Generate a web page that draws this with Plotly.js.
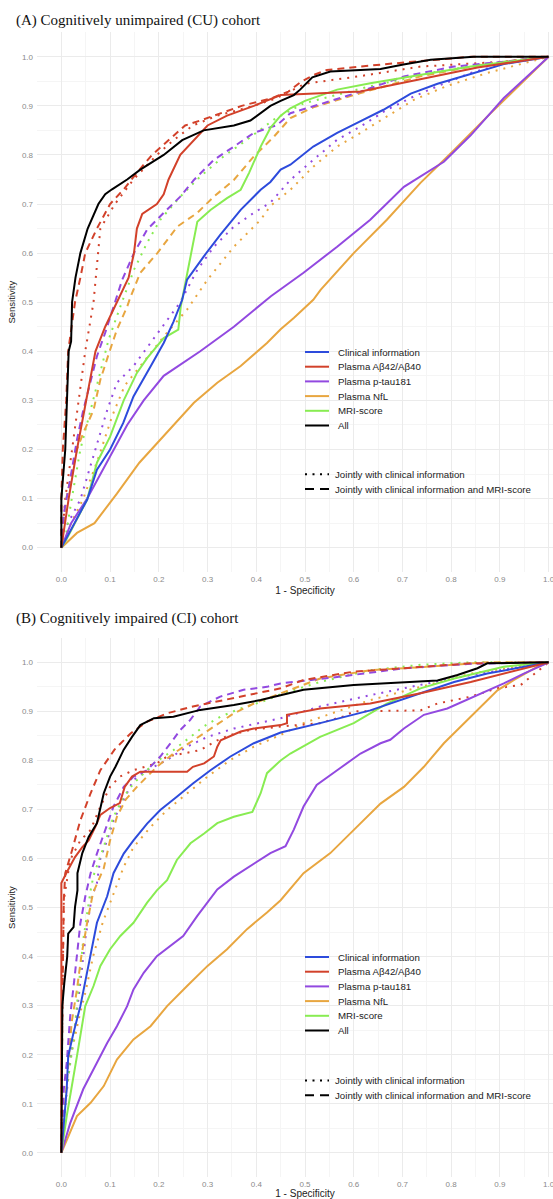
<!DOCTYPE html>
<html>
<head>
<meta charset="utf-8">
<script src="https://cdn.plot.ly/plotly-3.0.1.min.js"></script>
<style>
  html, body { margin: 0; padding: 0; overflow: hidden; background: #ffffff; }
  #chart { width: 573px; height: 1199px; }
</style>
</head>
<body>
<div id="chart"></div>
<script>
// ---------- Panel titles, legend labels ----------
const panelTitles = ['(A) Cognitively unimpaired (CU) cohort', '(B) Cognitively impaired (CI) cohort'];
const markerLabels = ['Clinical information', 'Plasma A\u03b242/A\u03b240', 'Plasma p-tau181', 'Plasma NfL', 'MRI-score', 'All'];
const lineTypeLabels = ['Jointly with clinical information', 'Jointly with clinical information and MRI-score'];
const xTitle = '1 - Specificity';
const yTitle = 'Sensitivity';

// ---------- (A) CU cohort: ROC curves (1 - specificity, sensitivity) ----------
const cuClinFpr = [0, 0.03, 0.053, 0.073, 0.1, 0.127, 0.148, 0.183, 0.21, 0.23, 0.248, 0.258, 0.292, 0.326, 0.368, 0.409, 0.429, 0.45, 0.47, 0.517, 0.566, 0.608, 0.661, 0.717, 0.772, 0.84, 0.908, 1];
const cuClinTpr = [0, 0.057, 0.098, 0.159, 0.2, 0.254, 0.308, 0.369, 0.417, 0.46, 0.505, 0.546, 0.593, 0.637, 0.688, 0.729, 0.745, 0.77, 0.78, 0.817, 0.845, 0.866, 0.892, 0.925, 0.945, 0.965, 0.985, 1];

const cuAbFpr = [0, 0.015, 0.032, 0.051, 0.07, 0.09, 0.114, 0.138, 0.149, 0.155, 0.166, 0.196, 0.21, 0.22, 0.244, 0.272, 0.3, 0.34, 0.395, 0.45, 0.614, 0.854, 1];
const cuAbTpr = [0, 0.1, 0.2, 0.3, 0.4, 0.45, 0.5, 0.55, 0.6, 0.65, 0.68, 0.7, 0.72, 0.75, 0.8, 0.83, 0.86, 0.88, 0.9, 0.922, 0.929, 0.978, 1];

const cuPtauFpr = [0, 0.02, 0.053, 0.08, 0.107, 0.135, 0.169, 0.21, 0.285, 0.354, 0.415, 0.43, 0.497, 0.566, 0.634, 0.703, 0.785, 0.84, 0.908, 1];
const cuPtauTpr = [0, 0.05, 0.1, 0.15, 0.2, 0.25, 0.3, 0.35, 0.4, 0.45, 0.5, 0.512, 0.56, 0.613, 0.668, 0.735, 0.786, 0.84, 0.916, 1];

const cuNflFpr = [0, 0.032, 0.068, 0.114, 0.16, 0.217, 0.272, 0.32, 0.368, 0.422, 0.45, 0.477, 0.517, 0.532, 0.6, 0.668, 0.737, 0.806, 0.874, 1];
const cuNflTpr = [0, 0.03, 0.05, 0.11, 0.173, 0.234, 0.295, 0.336, 0.37, 0.417, 0.445, 0.468, 0.505, 0.525, 0.6, 0.668, 0.743, 0.81, 0.878, 1];

const cuMriFpr = [0, 0.01, 0.053, 0.073, 0.1, 0.128, 0.155, 0.176, 0.21, 0.24, 0.245, 0.258, 0.268, 0.279, 0.306, 0.34, 0.368, 0.385, 0.409, 0.429, 0.45, 0.47, 0.5, 0.566, 0.634, 0.737, 0.84, 1];
const cuMriTpr = [0, 0.016, 0.098, 0.173, 0.226, 0.3, 0.356, 0.386, 0.427, 0.444, 0.491, 0.56, 0.613, 0.664, 0.688, 0.712, 0.729, 0.763, 0.817, 0.855, 0.88, 0.895, 0.91, 0.933, 0.946, 0.963, 0.98, 1];

const cuAllFpr = [0, 0, 0.008, 0.011, 0.015, 0.02, 0.022, 0.029, 0.039, 0.054, 0.076, 0.09, 0.104, 0.135, 0.162, 0.21, 0.248, 0.292, 0.354, 0.388, 0.429, 0.45, 0.477, 0.49, 0.515, 0.552, 0.655, 0.702, 0.758, 0.846, 1];
const cuAllTpr = [0, 0.1, 0.2, 0.3, 0.4, 0.42, 0.5, 0.55, 0.6, 0.65, 0.7, 0.72, 0.73, 0.75, 0.77, 0.8, 0.83, 0.85, 0.86, 0.87, 0.9, 0.91, 0.922, 0.933, 0.958, 0.97, 0.975, 0.984, 0.994, 1, 1];

// jointly with clinical information
const cuAbClinFpr = [0, 0.008, 0.022, 0.036, 0.049, 0.066, 0.075, 0.08, 0.11, 0.148, 0.196, 0.23, 0.27, 0.32, 0.395, 0.44, 0.5, 0.61, 0.737, 0.908, 1];
const cuAbClinTpr = [0, 0.1, 0.2, 0.3, 0.4, 0.5, 0.6, 0.65, 0.7, 0.75, 0.8, 0.83, 0.86, 0.88, 0.9, 0.915, 0.945, 0.96, 0.98, 0.99, 1];

const cuPtauClinFpr = [0, 0.003, 0.039, 0.066, 0.094, 0.114, 0.148, 0.183, 0.217, 0.244, 0.279, 0.313, 0.354, 0.395, 0.429, 0.47, 0.517, 0.566, 0.614, 0.668, 0.723, 0.772, 0.84, 0.908, 1];
const cuPtauClinTpr = [0, 0.03, 0.098, 0.186, 0.28, 0.336, 0.37, 0.417, 0.464, 0.5, 0.566, 0.613, 0.654, 0.682, 0.703, 0.749, 0.79, 0.831, 0.858, 0.892, 0.919, 0.94, 0.967, 0.986, 1];

const cuNflClinFpr = [0, 0.02, 0.045, 0.075, 0.105, 0.13, 0.17, 0.21, 0.258, 0.3, 0.354, 0.409, 0.429, 0.47, 0.517, 0.566, 0.614, 0.668, 0.723, 0.79, 0.874, 1];
const cuNflClinTpr = [0, 0.05, 0.1, 0.18, 0.27, 0.33, 0.38, 0.43, 0.485, 0.546, 0.613, 0.668, 0.696, 0.729, 0.776, 0.817, 0.845, 0.878, 0.912, 0.94, 0.967, 1];

const cuMriClinFpr = [0, 0.01, 0.021, 0.039, 0.06, 0.08, 0.097, 0.121, 0.149, 0.176, 0.203, 0.244, 0.285, 0.333, 0.381, 0.436, 0.497, 0.634, 0.772, 0.908, 1];
const cuMriClinTpr = [0, 0.03, 0.098, 0.2, 0.28, 0.356, 0.424, 0.491, 0.566, 0.621, 0.668, 0.715, 0.756, 0.797, 0.831, 0.872, 0.905, 0.94, 0.97, 0.99, 1];

// jointly with clinical information and MRI-score
const cuAbClinMriFpr = [0, 0, 0.003, 0.01, 0.014, 0.028, 0.039, 0.049, 0.073, 0.1, 0.128, 0.152, 0.186, 0.22, 0.254, 0.285, 0.37, 0.43, 0.466, 0.492, 0.518, 0.545, 0.655, 0.84, 1];
const cuAbClinMriTpr = [0, 0.1, 0.2, 0.3, 0.4, 0.5, 0.55, 0.6, 0.65, 0.7, 0.73, 0.76, 0.8, 0.83, 0.86, 0.87, 0.9, 0.915, 0.929, 0.949, 0.963, 0.973, 0.984, 1, 1];

const cuPtauClinMriFpr = [0, 0.005, 0.018, 0.032, 0.045, 0.06, 0.073, 0.09, 0.107, 0.125, 0.149, 0.176, 0.21, 0.244, 0.272, 0.313, 0.354, 0.395, 0.443, 0.47, 0.517, 0.614, 0.703, 0.806, 0.908, 1];
const cuPtauClinMriTpr = [0, 0.07, 0.138, 0.22, 0.28, 0.336, 0.39, 0.438, 0.491, 0.546, 0.6, 0.648, 0.682, 0.715, 0.749, 0.79, 0.817, 0.845, 0.861, 0.885, 0.899, 0.929, 0.96, 0.98, 0.99, 1];

const cuNflClinMriFpr = [0, 0.01, 0.032, 0.045, 0.066, 0.08, 0.1, 0.114, 0.135, 0.142, 0.162, 0.197, 0.238, 0.279, 0.313, 0.354, 0.395, 0.436, 0.47, 0.517, 0.614, 0.737, 0.874, 1];
const cuNflClinMriTpr = [0, 0.1, 0.2, 0.234, 0.28, 0.342, 0.403, 0.444, 0.491, 0.511, 0.56, 0.6, 0.654, 0.682, 0.715, 0.749, 0.797, 0.837, 0.875, 0.897, 0.926, 0.96, 0.986, 1];

// ---------- (B) CI cohort ----------
const ciClinFpr = [0, 0.005, 0.011, 0.014, 0.025, 0.039, 0.049, 0.06, 0.073, 0.094, 0.107, 0.128, 0.148, 0.176, 0.203, 0.237, 0.27, 0.306, 0.347, 0.395, 0.45, 0.531, 0.634, 0.737, 0.806, 0.874, 1];
const ciClinTpr = [0, 0.06, 0.13, 0.197, 0.245, 0.299, 0.347, 0.401, 0.469, 0.523, 0.57, 0.61, 0.637, 0.671, 0.699, 0.726, 0.753, 0.78, 0.808, 0.835, 0.857, 0.876, 0.902, 0.937, 0.96, 0.977, 1];

const ciAbFpr = [0, 0, 0.01, 0.028, 0.043, 0.056, 0.07, 0.08, 0.1, 0.12, 0.13, 0.145, 0.162, 0.258, 0.27, 0.293, 0.313, 0.32, 0.327, 0.354, 0.368, 0.395, 0.45, 0.463, 0.463, 0.531, 0.634, 0.737, 0.84, 1];
const ciAbTpr = [0, 0.55, 0.57, 0.603, 0.623, 0.637, 0.665, 0.689, 0.703, 0.713, 0.746, 0.767, 0.777, 0.777, 0.787, 0.794, 0.808, 0.828, 0.841, 0.852, 0.859, 0.865, 0.872, 0.876, 0.893, 0.906, 0.916, 0.937, 0.96, 1];

const ciPtauFpr = [0, 0.018, 0.045, 0.073, 0.094, 0.114, 0.135, 0.148, 0.169, 0.196, 0.23, 0.25, 0.279, 0.3, 0.32, 0.354, 0.395, 0.429, 0.46, 0.477, 0.497, 0.524, 0.566, 0.614, 0.655, 0.675, 0.703, 0.744, 0.792, 0.854, 0.908, 0.949, 1];
const ciPtauTpr = [0, 0.06, 0.13, 0.183, 0.224, 0.258, 0.299, 0.333, 0.367, 0.401, 0.428, 0.442, 0.483, 0.51, 0.537, 0.563, 0.59, 0.611, 0.625, 0.659, 0.706, 0.75, 0.78, 0.814, 0.835, 0.842, 0.865, 0.893, 0.906, 0.933, 0.957, 0.977, 1];

const ciNflFpr = [0, 0.011, 0.032, 0.06, 0.087, 0.114, 0.148, 0.183, 0.217, 0.258, 0.3, 0.34, 0.381, 0.422, 0.45, 0.497, 0.552, 0.607, 0.655, 0.703, 0.744, 0.785, 0.82, 0.854, 0.895, 0.929, 0.977, 1];
const ciNflTpr = [0, 0.027, 0.075, 0.102, 0.136, 0.19, 0.231, 0.258, 0.299, 0.34, 0.381, 0.415, 0.456, 0.49, 0.515, 0.57, 0.611, 0.665, 0.712, 0.746, 0.787, 0.835, 0.869, 0.902, 0.943, 0.964, 0.991, 1];

const ciMriFpr = [0, 0.011, 0.032, 0.049, 0.066, 0.08, 0.1, 0.121, 0.148, 0.176, 0.196, 0.217, 0.237, 0.265, 0.293, 0.32, 0.354, 0.392, 0.409, 0.422, 0.45, 0.47, 0.531, 0.6, 0.668, 0.737, 0.806, 0.908, 1];
const ciMriTpr = [0, 0.075, 0.197, 0.299, 0.34, 0.381, 0.415, 0.442, 0.469, 0.51, 0.535, 0.556, 0.597, 0.631, 0.651, 0.672, 0.685, 0.695, 0.733, 0.774, 0.8, 0.814, 0.848, 0.876, 0.916, 0.947, 0.967, 0.991, 1];

const ciAllFpr = [0, 0.002, 0.006, 0.012, 0.014, 0.025, 0.028, 0.033, 0.033, 0.043, 0.056, 0.073, 0.087, 0.1, 0.111, 0.128, 0.145, 0.162, 0.19, 0.23, 0.285, 0.354, 0.409, 0.45, 0.497, 0.6, 0.703, 0.772, 0.813, 0.854, 0.874, 1];
const ciAllTpr = [0, 0.3, 0.346, 0.4, 0.447, 0.46, 0.501, 0.535, 0.57, 0.611, 0.644, 0.672, 0.733, 0.767, 0.787, 0.822, 0.848, 0.872, 0.886, 0.889, 0.903, 0.913, 0.923, 0.933, 0.944, 0.954, 0.96, 0.963, 0.974, 0.988, 0.998, 1];

// jointly with clinical information
const ciAbClinFpr = [0, 0.002, 0.005, 0.018, 0.039, 0.06, 0.08, 0.1, 0.12, 0.148, 0.196, 0.217, 0.25, 0.285, 0.32, 0.347, 0.388, 0.45, 0.531, 0.58, 0.6, 0.737, 0.772, 0.84, 0.894, 0.943, 1];
const ciAbClinTpr = [0, 0.3, 0.515, 0.597, 0.637, 0.658, 0.706, 0.746, 0.767, 0.78, 0.794, 0.808, 0.814, 0.821, 0.841, 0.852, 0.862, 0.869, 0.876, 0.89, 0.9, 0.902, 0.916, 0.93, 0.947, 0.954, 1];

const ciPtauClinFpr = [0, 0.008, 0.021, 0.035, 0.049, 0.062, 0.073, 0.08, 0.094, 0.107, 0.128, 0.148, 0.176, 0.217, 0.258, 0.3, 0.354, 0.402, 0.45, 0.531, 0.634, 0.737, 0.84, 1];
const ciPtauClinTpr = [0, 0.1, 0.21, 0.313, 0.435, 0.52, 0.55, 0.6, 0.637, 0.678, 0.72, 0.76, 0.78, 0.801, 0.828, 0.848, 0.865, 0.876, 0.886, 0.91, 0.933, 0.954, 0.974, 1];

const ciNflClinFpr = [0, 0.008, 0.02, 0.035, 0.05, 0.065, 0.085, 0.107, 0.128, 0.148, 0.183, 0.217, 0.258, 0.3, 0.347, 0.395, 0.45, 0.497, 0.634, 0.737, 0.84, 1];
const ciNflClinTpr = [0, 0.1, 0.2, 0.27, 0.33, 0.4, 0.47, 0.529, 0.583, 0.623, 0.664, 0.699, 0.733, 0.767, 0.801, 0.828, 0.852, 0.876, 0.923, 0.95, 0.977, 1];

const ciMriClinFpr = [0, 0.011, 0.025, 0.035, 0.045, 0.06, 0.066, 0.087, 0.107, 0.128, 0.148, 0.19, 0.23, 0.265, 0.292, 0.326, 0.368, 0.422, 0.45, 0.531, 0.634, 0.737, 0.84, 1];
const ciMriClinTpr = [0, 0.13, 0.23, 0.333, 0.435, 0.535, 0.565, 0.624, 0.685, 0.726, 0.753, 0.794, 0.821, 0.848, 0.869, 0.889, 0.906, 0.923, 0.935, 0.96, 0.984, 0.995, 1, 1];

// jointly with clinical information and MRI-score
const ciAbClinMriFpr = [0, 0.002, 0.005, 0.008, 0.022, 0.039, 0.06, 0.08, 0.109, 0.142, 0.176, 0.217, 0.27, 0.318, 0.388, 0.45, 0.497, 0.6, 0.703, 0.84, 1];
const ciAbClinMriTpr = [0, 0.3, 0.515, 0.57, 0.617, 0.678, 0.733, 0.78, 0.822, 0.855, 0.879, 0.896, 0.91, 0.92, 0.933, 0.947, 0.964, 0.981, 0.988, 0.998, 1];

const ciPtauClinMriFpr = [0, 0.005, 0.011, 0.018, 0.028, 0.039, 0.049, 0.06, 0.073, 0.087, 0.107, 0.128, 0.148, 0.176, 0.203, 0.224, 0.244, 0.265, 0.285, 0.326, 0.374, 0.422, 0.45, 0.566, 0.703, 0.84, 1];
const ciPtauClinMriTpr = [0, 0.13, 0.183, 0.277, 0.366, 0.468, 0.522, 0.57, 0.61, 0.651, 0.706, 0.746, 0.767, 0.78, 0.808, 0.835, 0.862, 0.883, 0.91, 0.93, 0.944, 0.95, 0.957, 0.97, 0.988, 0.997, 1];

const ciNflClinMriFpr = [0, 0.011, 0.021, 0.032, 0.041, 0.053, 0.065, 0.087, 0.1, 0.114, 0.132, 0.155, 0.196, 0.23, 0.27, 0.313, 0.354, 0.395, 0.45, 0.531, 0.634, 0.737, 0.874, 1];
const ciNflClinMriTpr = [0, 0.143, 0.265, 0.333, 0.401, 0.469, 0.53, 0.58, 0.637, 0.685, 0.72, 0.746, 0.787, 0.814, 0.841, 0.869, 0.896, 0.916, 0.937, 0.967, 0.984, 0.99, 1, 1];

// ---------- styling ----------
const colors = {
  clin: '#2D4BDC',
  ab: '#D2412A',
  ptau: '#9249E0',
  nfl: '#E8A640',
  mri: '#88EC52',
  all: '#000000'
};
const legendColors = [colors.clin, colors.ab, colors.ptau, colors.nfl, colors.mri, colors.all];
const DOT = '2px,6px';
const DASH = '7px,5px';
const LW = 2;

// figure geometry (pixels)
const W = 573, H = 1199, ML = 37, MR = 0, MT = 0, MB = 0;
const PW = W - ML - MR, PH = H - MT - MB;
const fx = px => (px - ML) / PW;
const fy = py => (H - MB - py) / PH;

function curve(x, y, color, dash, panel) {
  return {
    type: 'scatter', mode: 'lines', x: x, y: y,
    xaxis: panel === 1 ? 'x' : 'x2',
    yaxis: panel === 1 ? 'y' : 'y2',
    line: { color: color, width: LW, dash: dash },
    hoverinfo: 'skip', showlegend: false
  };
}

const traces = [
  // CU
  curve(cuNflClinFpr, cuNflClinTpr, colors.nfl, DOT, 1),
  curve(cuPtauClinFpr, cuPtauClinTpr, colors.ptau, DOT, 1),
  curve(cuMriClinFpr, cuMriClinTpr, colors.mri, DOT, 1),
  curve(cuAbClinFpr, cuAbClinTpr, colors.ab, DOT, 1),
  curve(cuNflClinMriFpr, cuNflClinMriTpr, colors.nfl, DASH, 1),
  curve(cuPtauClinMriFpr, cuPtauClinMriTpr, colors.ptau, DASH, 1),
  curve(cuAbClinMriFpr, cuAbClinMriTpr, colors.ab, DASH, 1),
  curve(cuNflFpr, cuNflTpr, colors.nfl, 'solid', 1),
  curve(cuPtauFpr, cuPtauTpr, colors.ptau, 'solid', 1),
  curve(cuMriFpr, cuMriTpr, colors.mri, 'solid', 1),
  curve(cuClinFpr, cuClinTpr, colors.clin, 'solid', 1),
  curve(cuAbFpr, cuAbTpr, colors.ab, 'solid', 1),
  curve(cuAllFpr, cuAllTpr, colors.all, 'solid', 1),
  // CI
  curve(ciNflClinFpr, ciNflClinTpr, colors.nfl, DOT, 2),
  curve(ciPtauClinFpr, ciPtauClinTpr, colors.ptau, DOT, 2),
  curve(ciMriClinFpr, ciMriClinTpr, colors.mri, DOT, 2),
  curve(ciAbClinFpr, ciAbClinTpr, colors.ab, DOT, 2),
  curve(ciNflClinMriFpr, ciNflClinMriTpr, colors.nfl, DASH, 2),
  curve(ciPtauClinMriFpr, ciPtauClinMriTpr, colors.ptau, DASH, 2),
  curve(ciAbClinMriFpr, ciAbClinMriTpr, colors.ab, DASH, 2),
  curve(ciNflFpr, ciNflTpr, colors.nfl, 'solid', 2),
  curve(ciPtauFpr, ciPtauTpr, colors.ptau, 'solid', 2),
  curve(ciMriFpr, ciMriTpr, colors.mri, 'solid', 2),
  curve(ciClinFpr, ciClinTpr, colors.clin, 'solid', 2),
  curve(ciAbFpr, ciAbTpr, colors.ab, 'solid', 2),
  curve(ciAllFpr, ciAllTpr, colors.all, 'solid', 2)
];

const tickFont = { family: 'Liberation Sans, Arial, sans-serif', size: 8, color: '#8a8a8a' };
const titleFont = { family: 'Liberation Sans, Arial, sans-serif', size: 10, color: '#222222' };

function xAxis(anchor) {
  return {
    anchor: anchor, domain: [0, 1], range: [-0.05, 1.05],
    tickvals: [0, 0.1, 0.2, 0.3, 0.4, 0.5, 0.6, 0.7, 0.8, 0.9, 1.0], tickformat: '.1f',
    ticks: '', ticklabelstandoff: 1, tickfont: tickFont,
    showgrid: true, gridcolor: '#ebebeb', gridwidth: 1,
    minor: { dtick: 0.05, tick0: 0.05, showgrid: true, gridcolor: '#f5f5f5', gridwidth: 1, ticks: '' },
    zeroline: false, showline: false,
    title: { text: xTitle, font: titleFont, standoff: 3 }
  };
}
function yAxis(anchor, dom) {
  return {
    anchor: anchor, domain: dom, range: [-0.05, 1.05],
    tickvals: [0, 0.1, 0.2, 0.3, 0.4, 0.5, 0.6, 0.7, 0.8, 0.9, 1.0], tickformat: '.1f',
    ticks: '', ticklabelstandoff: 3, tickfont: tickFont,
    showgrid: true, gridcolor: '#ebebeb', gridwidth: 1,
    minor: { dtick: 0.05, tick0: 0.05, showgrid: true, gridcolor: '#f5f5f5', gridwidth: 1, ticks: '' },
    zeroline: false, showline: false,
    title: { text: yTitle, font: { family: titleFont.family, size: 9.5, color: '#222222' }, standoff: 4 }
  };
}

// legend blocks drawn as layout decorations
const legendFont = { family: 'Liberation Sans, Arial, sans-serif', size: 9.7, color: '#222222' };
const panelTitleFont = { family: 'Liberation Serif, Times New Roman, serif', size: 15, color: '#111111' };
const shapes = [];
const annotations = [];

annotations.push({ xref: 'paper', yref: 'paper', x: fx(14), y: fy(20.5), xanchor: 'left', yanchor: 'middle',
  text: panelTitles[0], showarrow: false, font: panelTitleFont });
annotations.push({ xref: 'paper', yref: 'paper', x: fx(14), y: fy(618.5), xanchor: 'left', yanchor: 'middle',
  text: panelTitles[1], showarrow: false, font: panelTitleFont });

function legendBlock(top, typeTop) {
  const step = 14.7;
  markerLabels.forEach((lab, i) => {
    const yy = top + i * step;
    shapes.push({ type: 'line', xref: 'paper', yref: 'paper', x0: fx(305), x1: fx(329), y0: fy(yy), y1: fy(yy),
      line: { color: legendColors[i], width: 2 } });
    annotations.push({ xref: 'paper', yref: 'paper', x: fx(335.5), y: fy(yy), xanchor: 'left', yanchor: 'middle',
      text: lab, showarrow: false, font: legendFont });
  });
  const dashes = ['2px,5.5px', '9px,6px'];
  lineTypeLabels.forEach((lab, i) => {
    const yy = typeTop + i * 14.7;
    shapes.push({ type: 'line', xref: 'paper', yref: 'paper', x0: fx(305), x1: fx(329), y0: fy(yy), y1: fy(yy),
      line: { color: '#000000', width: 2, dash: dashes[i] } });
    annotations.push({ xref: 'paper', yref: 'paper', x: fx(333.5), y: fy(yy), xanchor: 'left', yanchor: 'middle',
      text: lab, showarrow: false, font: legendFont });
  });
}
legendBlock(352, 474.3);
legendBlock(957, 1080.6);

const layout = {
  width: W, height: H,
  margin: { l: ML, r: MR, t: MT, b: MB },
  paper_bgcolor: '#ffffff', plot_bgcolor: '#ffffff',
  showlegend: false,
  xaxis: xAxis('y'),
  yaxis: yAxis('x', [fy(572.2), fy(32.2)]),
  xaxis2: xAxis('y2'),
  yaxis2: yAxis('x2', [fy(1177.3), fy(637.8)]),
  shapes: shapes,
  annotations: annotations
};

Plotly.newPlot('chart', traces, layout, { displayModeBar: false, staticPlot: true });
</script>
</body>
</html>
